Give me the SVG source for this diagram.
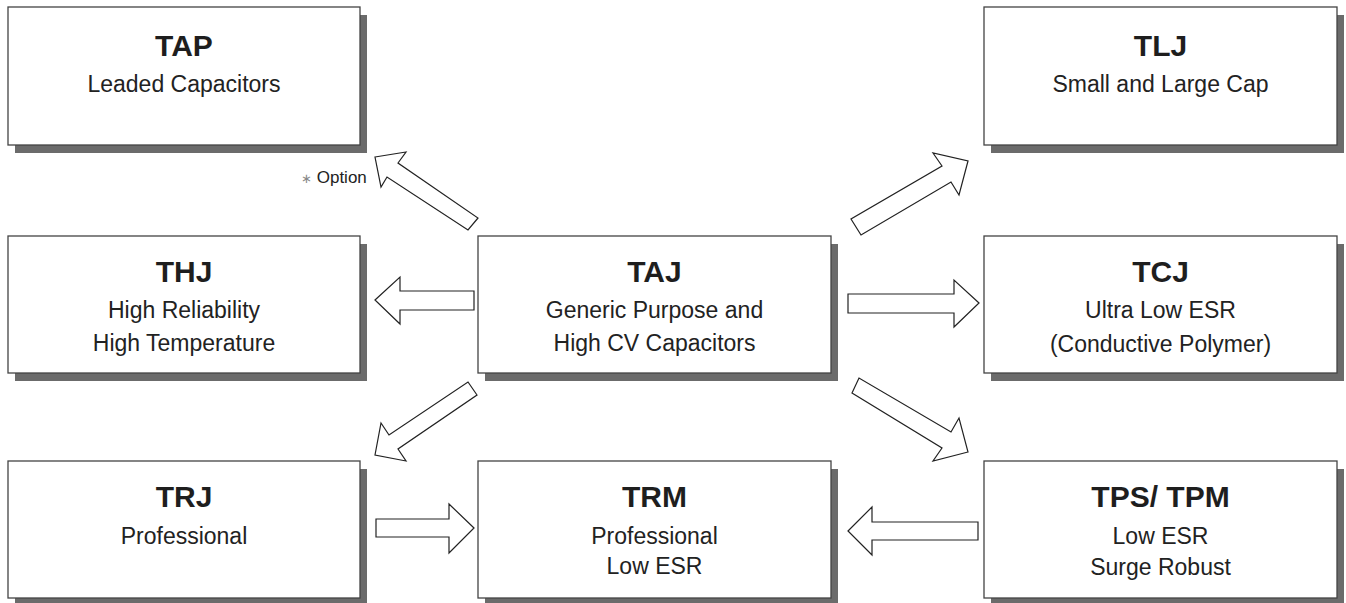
<svg xmlns="http://www.w3.org/2000/svg" width="1346" height="603" viewBox="0 0 1346 603">
<style>
.shadow{fill:#6b6b6b;stroke:none}
.box{fill:#fff;stroke:#444;stroke-width:1.3}
.t{font-family:"Liberation Sans",Arial,sans-serif;font-weight:bold;font-size:30px;fill:#1e1e1e;text-anchor:middle}
.s{font-family:"Liberation Sans",Arial,sans-serif;font-size:23px;fill:#222;text-anchor:middle}
.arrow{fill:#fff;stroke:#222;stroke-width:1.2;stroke-linejoin:miter}
.opt{font-family:"Liberation Sans",Arial,sans-serif;font-size:17px;fill:#222}
</style>
<rect width="1346" height="603" fill="#fff"/>
<g id="TAP">
<rect class="shadow" x="15" y="15" width="352" height="138"/>
<rect class="box" x="8" y="7" width="352" height="138"/>
<text class="t" x="184" y="56">TAP</text>
<text class="s" x="184" y="92">Leaded Capacitors</text>
</g>
<g id="TLJ">
<rect class="shadow" x="991" y="15" width="353" height="138"/>
<rect class="box" x="984" y="7" width="353" height="138"/>
<text class="t" x="1160.5" y="56">TLJ</text>
<text class="s" x="1160.5" y="92">Small and Large Cap</text>
</g>
<g id="THJ">
<rect class="shadow" x="15" y="244" width="352" height="137"/>
<rect class="box" x="8" y="236" width="352" height="137"/>
<text class="t" x="184" y="282">THJ</text>
<text class="s" x="184" y="318">High Reliability</text>
<text class="s" x="184" y="351">High Temperature</text>
</g>
<g id="TAJ">
<rect class="shadow" x="485" y="244" width="353" height="137"/>
<rect class="box" x="478" y="236" width="353" height="137"/>
<text class="t" x="654.5" y="282">TAJ</text>
<text class="s" x="654.5" y="318">Generic Purpose and</text>
<text class="s" x="654.5" y="351">High CV Capacitors</text>
</g>
<g id="TCJ">
<rect class="shadow" x="991" y="244" width="353" height="137"/>
<rect class="box" x="984" y="236" width="353" height="137"/>
<text class="t" x="1160.5" y="282">TCJ</text>
<text class="s" x="1160.5" y="318">Ultra Low ESR</text>
<text class="s" x="1160.5" y="352">(Conductive Polymer)</text>
</g>
<g id="TRJ">
<rect class="shadow" x="15" y="469" width="352" height="137"/>
<rect class="box" x="8" y="461" width="352" height="137"/>
<text class="t" x="184" y="507">TRJ</text>
<text class="s" x="184" y="544">Professional</text>
</g>
<g id="TRM">
<rect class="shadow" x="485" y="469" width="353" height="137"/>
<rect class="box" x="478" y="461" width="353" height="137"/>
<text class="t" x="654.5" y="507">TRM</text>
<text class="s" x="654.5" y="544">Professional</text>
<text class="s" x="654.5" y="574">Low ESR</text>
</g>
<g id="TPS_TPM">
<rect class="shadow" x="991" y="469" width="353" height="137"/>
<rect class="box" x="984" y="461" width="353" height="137"/>
<text class="t" x="1160.5" y="507">TPS/ TPM</text>
<text class="s" x="1160.5" y="544">Low ESR</text>
<text class="s" x="1160.5" y="575">Surge Robust</text>
</g>
<g id="connectors">
<polygon class="arrow" points="375,157 406,152 398,163 478,218 468,230 387,177 381,187"/>
<polygon class="arrow" points="968,161 959,195 951,182 861,235 851,219 942,166 933,153"/>
<polygon class="arrow" points="375,300 400,277 400,291 474,291 474,310 400,310 400,324"/>
<polygon class="arrow" points="979,303 954,280 954,294 848,294 848,313 954,313 954,327"/>
<polygon class="arrow" points="375,455 381,423 389,435 468,382 477,395 398,449 406,461"/>
<polygon class="arrow" points="968,452 933,461 942,448 852,393 859,378 951,432 959,418"/>
<polygon class="arrow" points="474,528 449,504 449,519 376,519 376,537 449,537 449,553"/>
<polygon class="arrow" points="848,531 872,507 872,522 978,522 978,540 872,540 872,555"/>
<text class="opt" x="301" y="183"><tspan fill="#888" font-size="13">∗</tspan> Option</text>
</g>
</svg>
